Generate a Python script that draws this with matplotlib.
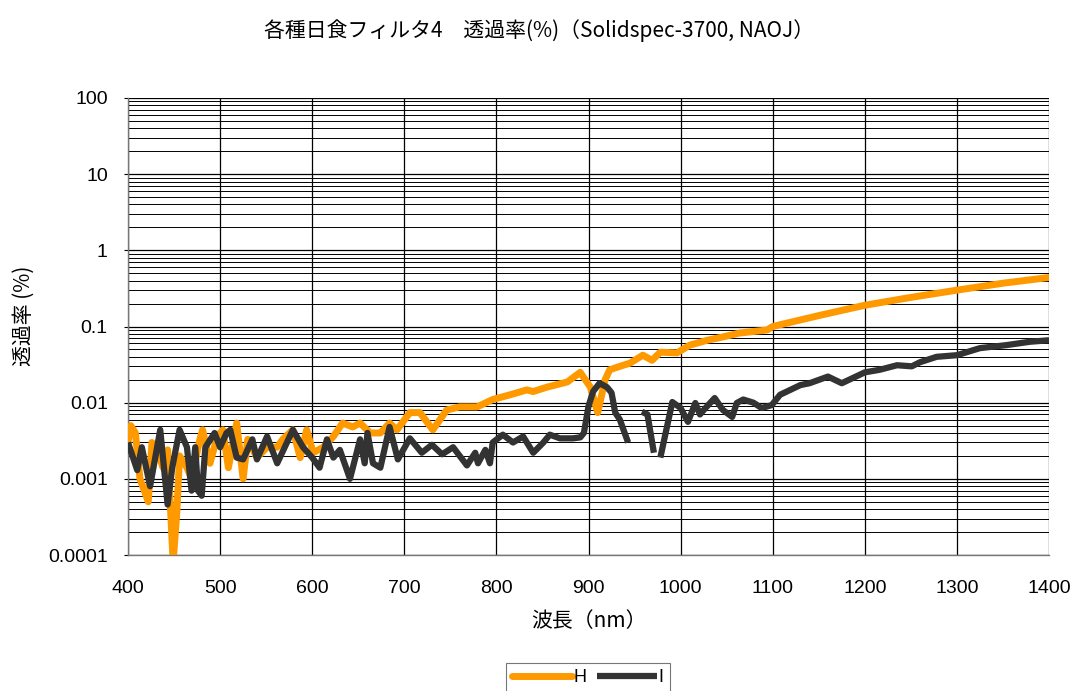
import numpy as np
import matplotlib
matplotlib.use("Agg")
import matplotlib.pyplot as plt
from matplotlib.ticker import FixedLocator, LogLocator, NullFormatter, FuncFormatter

plt.rcParams['font.family'] = ['Liberation Sans', 'Noto Sans CJK JP', 'DejaVu Sans']
CJK = ['Noto Sans CJK JP', 'DejaVu Sans']

title = "各種日食フィルタ4　透過率(%)（Solidspec-3700, NAOJ）"
xlabel = "波長（nm）"
ylabel = "透過率 (%)"

h_nm = [400, 403, 408, 413, 422, 426, 431, 438, 443, 449, 453, 456, 464, 469, 478, 481, 489, 497, 503, 509,
        518, 525, 530, 540, 551, 562, 568, 579, 587, 594, 601, 612, 623, 633, 644, 652, 663, 674, 684, 692,
        706, 717, 731, 746, 760, 779, 796, 815, 833, 840, 855, 877, 891, 902, 910, 918, 923, 934, 945, 959,
        969, 978, 996, 1010, 1029, 1046, 1064, 1094, 1100, 1151, 1200, 1249, 1300, 1350, 1400]
h_val = [0.003, 0.005, 0.004, 0.001, 0.0005, 0.003, 0.0026, 0.0014, 0.0024, 0.00008, 0.00036, 0.002, 0.0014,
         0.001, 0.0033, 0.0044, 0.0016, 0.0036, 0.0044, 0.0014, 0.0054, 0.001, 0.0033, 0.0019, 0.0026, 0.0026,
         0.0033, 0.0044, 0.0019, 0.0044, 0.0022, 0.0026, 0.0036, 0.0054, 0.0048, 0.0054, 0.004, 0.004, 0.0054,
         0.0044, 0.0074, 0.0074, 0.0044, 0.008, 0.0088, 0.0088, 0.011, 0.0127, 0.0147, 0.014, 0.016, 0.0187,
         0.025, 0.016, 0.0074, 0.02, 0.027, 0.03, 0.033, 0.042, 0.036, 0.046, 0.045, 0.057, 0.066, 0.073,
         0.082, 0.09, 0.1, 0.14, 0.19, 0.24, 0.30, 0.37, 0.44]

i_nm = [400, 410, 415, 424, 435, 443, 448, 456, 464, 469, 473, 476, 480, 484, 494, 500, 507, 511, 518, 525,
        535, 540, 551, 562, 579, 590, 600, 608, 616, 623, 630, 641, 652, 657, 660, 666, 674, 684, 693, 706,
        719, 730, 741, 753, 768, 777, 780, 788, 793, 796, 807, 818, 829, 840, 851, 858, 869, 883, 891, 895,
        900, 905, 912, 920, 925, 929, 934, 943, 944, 958, 964, 971, 974, 978, 991, 1000, 1008, 1016, 1021,
        1027, 1037, 1046, 1056, 1061, 1068, 1079, 1088, 1099, 1108, 1119, 1130, 1140, 1160, 1175, 1200,
        1216, 1235, 1251, 1260, 1278, 1300, 1325, 1354, 1379, 1400]
i_val = [0.003, 0.0013, 0.0026, 0.0008, 0.0044, 0.00046, 0.0014, 0.0044, 0.0026, 0.0007, 0.0026, 0.0007,
         0.0006, 0.0026, 0.004, 0.0026, 0.004, 0.0044, 0.0019, 0.0018, 0.0033, 0.0018, 0.0036, 0.0016, 0.0044,
         0.0026, 0.0019, 0.0014, 0.0033, 0.0019, 0.0024, 0.001, 0.0033, 0.0016, 0.004, 0.0016, 0.0014, 0.0048,
         0.0018, 0.0034, 0.0022, 0.0028, 0.0021, 0.0026, 0.0015, 0.0022, 0.0016, 0.0024, 0.0016, 0.003, 0.0038,
         0.003, 0.0036, 0.0022, 0.003, 0.0038, 0.0034, 0.0034, 0.0035, 0.004, 0.009, 0.014, 0.018, 0.016,
         0.0135, 0.0074, 0.006, 0.003, np.nan, 0.0076, 0.007, 0.0022, np.nan, 0.0019, 0.0102, 0.0085, 0.0056,
         0.0099, 0.007, 0.0085, 0.0115, 0.008, 0.0065, 0.0099, 0.011, 0.01, 0.0085, 0.0093, 0.0127, 0.0147,
         0.017, 0.018, 0.022, 0.018, 0.025, 0.027, 0.031, 0.03, 0.034, 0.04, 0.042, 0.052, 0.057, 0.063, 0.066]

x_ticks = [400, 500, 600, 700, 800, 900, 1000, 1100, 1200, 1300, 1400]
y_ticks = [0.0001, 0.001, 0.01, 0.1, 1, 10, 100]
y_tick_labels = ["0.0001", "0.001", "0.01", "0.1", "1", "10", "100"]

fig = plt.figure(figsize=(10.78, 6.91), dpi=100)
ax = fig.add_axes([128 / 1078, 1 - 555 / 691, (1049 - 128) / 1078, (555 - 98) / 691])

ax.plot(h_nm, h_val, color="#FF9900", lw=5, label="H", solid_joinstyle="round", solid_capstyle="round", zorder=3)
ax.plot(i_nm, i_val, color="#333333", lw=4.5, label="I", solid_joinstyle="round", solid_capstyle="butt", zorder=4)

ax.set_yscale("log")
ax.set_xlim(400, 1400)
ax.set_ylim(0.0001, 100)
ax.xaxis.set_major_locator(FixedLocator(x_ticks))
ax.yaxis.set_major_locator(FixedLocator(y_ticks))
ax.yaxis.set_major_formatter(FuncFormatter(lambda v, p: y_tick_labels[y_ticks.index(v)] if v in y_ticks else ""))
ax.yaxis.set_minor_locator(LogLocator(base=10, subs=np.arange(2, 10), numticks=100))
ax.yaxis.set_minor_formatter(NullFormatter())

ax.grid(which="major", axis="both", color="black", lw=0.9)
ax.grid(which="minor", axis="y", color="black", lw=0.7)
ax.set_axisbelow(True)

ax.tick_params(axis="x", which="major", labelsize=14, length=0, pad=18)
ax.tick_params(axis="y", which="major", labelsize=14, length=3, pad=11.5, color="black")
ax.tick_params(axis="y", which="minor", length=0)
for s in ["top", "right"]:
    ax.spines[s].set_visible(False)
for s in ["left", "bottom"]:
    ax.spines[s].set_color("#777777")
    ax.spines[s].set_linewidth(1.0)

ax.set_xlabel(xlabel, fontsize=15, labelpad=9.5, family=CJK)
ax.set_ylabel(ylabel, fontsize=15, family=CJK)
ax.yaxis.set_label_coords(-(128 - 35) / 921, 1 - (316 - 98) / 457)
fig.text(0.5, 1 - 31 / 691, title, ha="center", va="center", fontsize=15, family=CJK)

leg = fig.legend(loc="lower center", bbox_to_anchor=(588 / 1078, -0.015), ncol=2, frameon=True, fancybox=False,
                 edgecolor="#555555", fontsize=13, handlelength=3.3, handletextpad=0.1, columnspacing=0.6,
                 borderpad=0.35)
leg.get_frame().set_linewidth(0.8)

fig.savefig("out.png", dpi=100)
